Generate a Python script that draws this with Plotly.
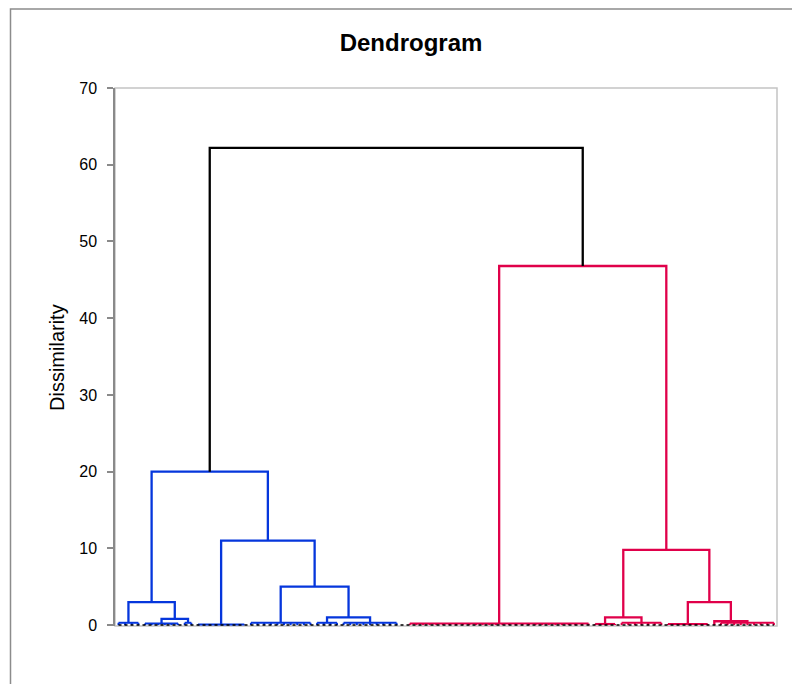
import plotly.graph_objects as go

# ---- data: leaf groups (flat sub-clusters) ----
group_first = [0, 4, 10, 12, 20, 30, 34, 44, 72, 76, 83, 90, 91]
group_last = [3, 9, 11, 19, 29, 33, 42, 71, 75, 82, 89, 90, 99]
group_height = [0.3, 0.2, 0.3, 0.08, 0.3, 0.3, 0.3, 0.2, 0.15, 0.3, 0.15, 0.0, 0.3]
group_color = ["blue"] * 7 + ["red"] * 6

# ---- data: merges (scipy-style node ids; groups are 0..12) ----
merge_left = [1, 0, 5, 4, 3, 14, 8, 11, 10, 19, 7, 18]
merge_right = [2, 13, 6, 15, 16, 17, 9, 12, 20, 21, 22, 23]
merge_height = [0.8, 3.0, 1.0, 5.0, 11.0, 20.0, 1.0, 0.5, 3.0, 9.8, 46.8, 62.2]
merge_color = ["blue"] * 6 + ["red"] * 5 + ["black"]

y_ticks = [0, 10, 20, 30, 40, 50, 60, 70]

COLORS = {"blue": "#0536dc", "red": "#e0004a", "black": "#000000"}
LW = 2.3
FONT = "Liberation Sans, Arial, sans-serif"

fig = go.Figure()
node_x, node_h = [], []

def add_line(xs, ys, color, width=LW, dash=None):
    fig.add_trace(go.Scatter(x=xs, y=ys, mode="lines",
                             line=dict(color=color, width=width, dash=dash),
                             hoverinfo="skip", showlegend=False))

# groups
for a, b, h, c in zip(group_first, group_last, group_height, group_color):
    col = COLORS[c]
    xs, ys = [], []
    for i in range(a, b + 1):
        xs += [i, i, None]
        ys += [0, h, None]
    xs += [a, b]
    ys += [h, h]
    add_line(xs, ys, col, width=2.0)
    node_x.append((a + b) / 2)
    node_h.append(h)

# merges
for l, r, h, c in zip(merge_left, merge_right, merge_height, merge_color):
    xl, xr = node_x[l], node_x[r]
    add_line([xl, xl, xr, xr], [node_h[l], h, h, node_h[r]], COLORS[c])
    node_x.append((xl + xr) / 2)
    node_h.append(h)

# dashed zero line over the leaves
n_leaves = group_last[-1] + 1
add_line([0, n_leaves - 1], [0, 0], "#000000", width=1.5, dash="3px,3px")

# page body has an 8px margin -> figure is offset by 8px
OFF = 8
W, H = 800 - OFF, 684 - OFF
L, R, T, B = 115 - OFF, 800 - 777, 88 - OFF, 684 - 626
pw, ph = W - L - R, H - T - B

fig.update_layout(
    width=W, height=H,
    margin=dict(l=L, r=R, t=T, b=B),
    paper_bgcolor="white", plot_bgcolor="white",
    font=dict(family=FONT, color="#000000", size=16),
    title=dict(text="<b>Dendrogram</b>", x=(411 - OFF) / W, xanchor="center",
               y=1 - (43 - OFF) / H, yanchor="middle", yref="container",
               font=dict(size=24, family=FONT)),
    xaxis=dict(range=[-0.53, 99.47], showgrid=False, zeroline=False,
               showticklabels=False, ticks="", showline=False),
    yaxis=dict(range=[-0.12, 70], tickvals=y_ticks, showgrid=False, zeroline=False,
               ticks="outside", ticklen=6, tickcolor="#8a8a8a", tickwidth=1.5,
               showline=True, linecolor="#8a8a8a", linewidth=1.5,
               ticklabelstandoff=7, tickfont=dict(size=16)),
    shapes=[
        dict(type="rect", xref="paper", yref="paper", x0=0, x1=1, y0=0, y1=1,
             line=dict(color="#c4c4c4", width=1.5), layer="below"),
        dict(type="rect", xref="paper", yref="paper",
             x0=(10.5 - 115) / pw, x1=(830 - 115) / pw,
             y0=-(720 - 626) / ph, y1=(626 - 9) / ph,
             line=dict(color="#8c8c8c", width=1.5), layer="below"),
    ],
    annotations=[
        dict(text="Dissimilarity", xref="paper", yref="paper",
             x=(57 - 115) / pw, y=0.5, xanchor="center", yanchor="middle",
             textangle=-90, showarrow=False,
             font=dict(size=20, family=FONT)),
    ],
)

fig.write_html("out.html")
